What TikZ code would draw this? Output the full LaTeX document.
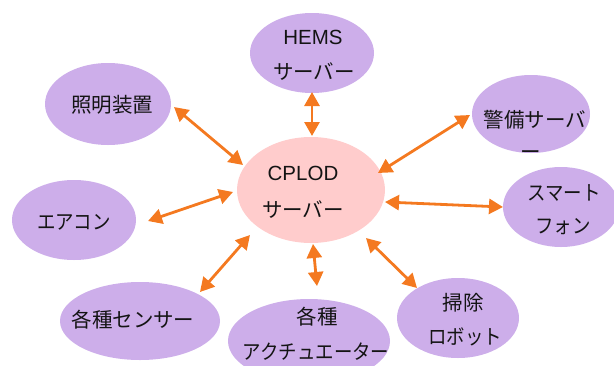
\documentclass[tikz,border=0pt]{standalone}
\usepackage{fontspec}
\setmainfont{Noto Sans CJK JP}
\newfontfamily\latinfont{Liberation Sans}
\newfontfamily\kanafont[FakeStretch=0.9]{Noto Sans CJK JP}
\usetikzlibrary{arrows.meta,shapes.geometric}
\definecolor{lav}{HTML}{CDAEEA}
\definecolor{pinkc}{HTML}{FFCCCC}
\definecolor{orng}{HTML}{F47920}
\definecolor{txtc}{HTML}{141414}
\tikzset{
  dev/.style={ellipse, fill=lav, draw=none, inner sep=0pt},
  srv/.style={ellipse, fill=pinkc, draw=none, inner sep=0pt},
  lbl/.style={inner sep=0pt, text=txtc, font=\fontsize{20.5}{24}\selectfont},
  slbl/.style={lbl, font=\fontsize{20.5}{24}\selectfont\kanafont},
  link/.style={draw=orng, line width=2.8pt, {Triangle[length=14pt,width=15pt]}-{Triangle[length=14pt,width=15pt]}, shorten <=0pt, shorten >=0pt}
}
\begin{document}
\begin{tikzpicture}[x=1pt,y=-1pt]
\useasboundingbox (0,0) rectangle (614,365);
\clip (0,0) rectangle (614,365);
% ellipses
\node[dev, minimum width=124pt, minimum height=80pt] (hems) at (312,53) {};
\node[dev, minimum width=126pt, minimum height=82pt] (light) at (108,104) {};
\node[dev, minimum width=118pt, minimum height=78pt] (guard) at (531,114) {};
\node[dev, minimum width=116pt, minimum height=80pt] (phone) at (561,207) {};
\node[srv, minimum width=148pt, minimum height=106pt] (cplod) at (311,190) {};
\node[dev, minimum width=124pt, minimum height=80pt] (ac) at (74,220) {};
\node[dev, minimum width=160pt, minimum height=78pt] (sensor) at (140,321) {};
\node[dev, minimum width=162pt, minimum height=84pt] (act) at (309,341) {};
\node[dev, minimum width=122pt, minimum height=80pt] (robot) at (458,318) {};
% labels
\node[lbl] (t-hems1) at (313,37) {\latinfont HEMS};
\node[lbl] (t-hems2) at (314,72) {サーバー};
\node[lbl] (t-light) at (112,105) {照明装置};
\node[lbl] (t-guard1) at (535,120) {警備サーバ};
\node[lbl] (t-guard2) at (531,155) {ー};
\node[slbl] (t-phone1) at (564,193) {スマート};
\node[slbl] (t-phone2) at (563,227) {フォン};
\node[lbl] (t-cplod1) at (303,173) {\latinfont CPLOD};
\node[lbl] (t-cplod2) at (303,210) {サーバー};
\node[slbl] (t-ac) at (74,222) {エアコン};
\node[lbl] (t-sensor) at (133,320) {各種センサー};
\node[lbl] (t-act1) at (317,317) {各種};
\node[slbl] (t-act2) at (316,352) {アクチュエーター};
\node[lbl] (t-robot1) at (463,303) {掃除};
\node[slbl] (t-robot2) at (465,337) {ロボット};
% arrow endpoints
\coordinate (a1) at (312,92);  \coordinate (b1) at (312,136);
\coordinate (a2) at (174,107); \coordinate (b2) at (243,165);
\coordinate (a3) at (470,115); \coordinate (b3) at (378,173);
\coordinate (a4) at (503,207); \coordinate (b4) at (385,202);
\coordinate (a5) at (148,221); \coordinate (b5) at (233,192);
\coordinate (a6) at (200,292); \coordinate (b6) at (250,235);
\coordinate (a7) at (317,286); \coordinate (b7) at (313,244);
\coordinate (a8) at (417,288); \coordinate (b8) at (366,238);
\foreach \i in {1,...,8} { \draw[link] (a\i) -- (b\i); }
\end{tikzpicture}
\end{document}
